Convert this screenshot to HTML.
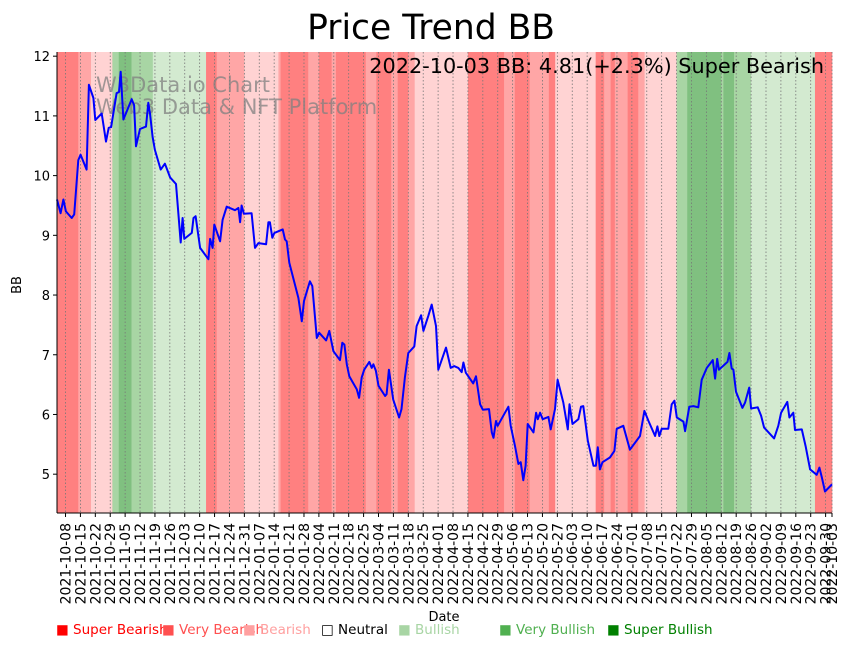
<!DOCTYPE html>
<html><head><meta charset="utf-8">
<style>
body{margin:0;background:#fff;}
svg text{font-family:"DejaVu Sans","Liberation Sans",sans-serif;}
</style></head>
<body>
<svg id="chart" width="851" height="646" xmlns="http://www.w3.org/2000/svg">
<text x="431" y="39" font-size="34.5" text-anchor="middle">Price Trend BB</text>
<g id="bands"></g>
<g id="grid"></g>
<g fill="#808080" fill-opacity="0.75" font-size="21">
<text x="96" y="92">W3Data.io Chart</text>
<text x="96" y="114">Web3 Data &amp; NFT Platform</text>
</g>
<path id="line" fill="none" stroke="#0000ff" stroke-width="2" stroke-linejoin="round"></path>
<text x="824" y="73" font-size="20.8" text-anchor="end">2022-10-03 BB: 4.81(+2.3%) Super Bearish</text>
<g id="axes"></g>
<text x="444" y="621" font-size="13" text-anchor="middle">Date</text>
<text x="21" y="285" font-size="13" text-anchor="middle" transform="rotate(-90 21 285)">BB</text>
<g id="legend" font-size="13.5"></g>
</svg>
<script>
// data: day offsets from 2021-10-04 and BB values
const days = [0,1.7,3,4.2,6.9,8.1,10,11.1,13.9,15,17.1,18,21,23,24.3,25.4,28,29.1,29.9,31.2,35.1,36.2,37.1,39,41.8,42.9,43.7,44.9,46,48.7,50.7,53.1,55.9,58.1,59,59.8,63.3,64.1,65.1,67.2,71.1,71.9,73.1,73.9,76.6,77.8,79.7,83.6,85.2,86,86.7,87.8,91.4,93,94.6,98.2,99.3,100,101.1,102.1,106,107.1,107.9,109.1,113.4,115,116,118.8,119.9,122,123.1,126.4,127.9,129.8,132.9,134,135,136.1,137.3,140.8,141.9,143.1,144.3,146.7,147.8,148.6,149.8,151,154.1,154.8,155.9,157.9,160.7,161.8,163.4,165,167.8,168.9,171,172.1,174.4,176,178,179.1,182.7,184.9,186.5,188.5,190.1,190.9,192,195.5,196.8,198.7,200,202.9,204.2,205,206.2,207,210.4,212,213.1,215.1,216.7,217.8,219,220.1,221.1,223.8,225,225.8,226.9,228.1,230.8,231.9,233.9,235.1,237.8,239.9,240.7,242.1,244.9,246.1,247.2,249.3,252,253.1,254,255,256.2,259.7,261.8,262.9,266,269.1,273.8,275.9,277.8,280.9,282,282.9,284,287.1,288.7,290,291.1,294.2,295,297,298.9,301.2,302.8,305.2,308,309.1,310.1,310.9,314.9,315.8,316.9,317.7,318.9,321.9,323.2,325.1,326,329.1,330.7,332.1,336.8,338.8,340.1,343,344,345.8,346.6,349.8,351.6,353.7,356.8,358.1,359.2,360.7,364];
const values = [9.6,9.37,9.6,9.4,9.29,9.35,10.26,10.35,10.1,11.52,11.3,10.93,11.04,10.57,10.8,10.81,11.38,11.4,11.74,10.94,11.28,11.18,10.49,10.78,10.82,11.22,11.04,10.65,10.43,10.1,10.2,9.97,9.86,8.88,9.29,8.94,9.04,9.29,9.32,8.79,8.6,8.94,8.79,9.18,8.9,9.26,9.48,9.42,9.46,9.22,9.5,9.36,9.37,8.79,8.87,8.85,9.22,9.22,8.96,9.04,9.1,8.93,8.9,8.54,7.95,7.56,7.9,8.23,8.15,7.28,7.37,7.24,7.4,7.06,6.91,7.2,7.17,6.84,6.64,6.42,6.28,6.62,6.75,6.88,6.78,6.84,6.73,6.48,6.31,6.34,6.75,6.25,5.95,6.09,6.62,7.03,7.14,7.48,7.66,7.4,7.65,7.84,7.48,6.75,7.12,6.78,6.81,6.78,6.71,6.87,6.7,6.52,6.64,6.17,6.08,6.09,5.7,5.61,5.89,5.81,6.03,6.13,5.81,5.47,5.17,5.2,4.9,5.14,5.84,5.7,6.03,5.92,6.03,5.92,5.96,5.75,6.09,6.58,6.2,5.75,6.17,5.84,5.92,6.13,6.14,5.56,5.14,5.14,5.45,5.08,5.2,5.28,5.39,5.76,5.81,5.41,5.64,6.06,5.89,5.64,5.8,5.64,5.76,5.76,6.17,6.23,5.95,5.88,5.72,6.13,6.14,6.12,6.58,6.78,6.91,6.6,6.93,6.75,6.88,7.03,6.77,6.75,6.38,6.11,6.2,6.45,6.1,6.12,5.98,5.78,5.6,5.81,6.03,6.21,5.95,6.03,5.74,5.75,5.47,5.08,4.99,5.11,4.95,4.71,4.83];
// sentiment bands: start day, category (0 super bearish .. 6 super bullish)
const bandStarts = [0,10,16,26,29,35,45,70,75,88,104,105,118,123,129,131,145,150,157,160,165,168,193,210,215,222,231,234,253,257,260,262,268,273,276,291,296,312,313,318,326,356];
const bandCats =   [0,1,2,5,6,5,4,0,1,2,1,0,1,0,1,0,1,0,1,0,1,2,0,1,0,1,0,2,0,1,0,1,0,1,2,5,6,5,6,5,4,0];
const yTicks = [5,6,7,8,9,10,11,12];
const legendLabels = ["Super Bearish","Very Bearish","Bearish","Neutral","Bullish","Very Bullish","Super Bullish"];
const totalDays = 364;

const X0=57, X1=832, Y0=52, Y1=513, VMIN=4.35, VMAX=12.07;
const xs = d => X0 + d/totalDays*(X1-X0);
const ys = v => Y1 - (v-VMIN)/(VMAX-VMIN)*(Y1-Y0);
const NS="http://www.w3.org/2000/svg";
const bandColors=["#ff8080","#ffa6a6","#ffd3d3","#ffffff","#d3ead0","#a8d5a4","#80c080"];
const legendColors=["#ff0000","#ff5050","#ffa0a0","#000000","#a8d5a4","#50b050","#008000"];
function mk(tag,attrs,parent){const e=document.createElementNS(NS,tag);for(const k in attrs)e.setAttribute(k,attrs[k]);parent.appendChild(e);return e;}

const bandsG=document.getElementById('bands');
for(let i=0;i<bandStarts.length;i++){
  const s=bandStarts[i], e=(i+1<bandStarts.length)?bandStarts[i+1]:totalDays;
  const r=mk('rect',{x:xs(s),y:Y0,width:xs(e)-xs(s)+0.3,height:Y1-Y0,fill:bandColors[bandCats[i]]},bandsG);
  
  
}

const start=new Date(Date.UTC(2021,9,4));
const tickDays=[];
for(let d=4; d<=totalDays; d+=7) tickDays.push(d);
tickDays.push(364);
function fmt(d){const t=new Date(start.getTime()+d*86400000);return t.toISOString().slice(0,10);}
const gridG=document.getElementById('grid'), axesG=document.getElementById('axes');
tickDays.forEach(d=>{
  const x=xs(d);
  const g=mk('line',{x1:x,x2:x,y1:Y0,y2:Y1,stroke:'#777','stroke-width':0.8,'stroke-dasharray':'1.5,2'},gridG);
  
  
  const t=mk('line',{x1:x,x2:x,y1:Y1,y2:Y1+4,stroke:'#000','stroke-width':1},axesG);
  
  
  const lb=mk('text',{x:x+5,y:Y1+10,'font-size':14,'text-anchor':'end',transform:`rotate(-90 ${x+5} ${Y1+10})`},axesG);
  lb.textContent=fmt(d);
  
  
});
yTicks.forEach(v=>{
  const y=ys(v);
  const t=mk('line',{x1:X0-4,x2:X0,y1:y,y2:y,stroke:'#000','stroke-width':1},axesG);
  
  
  const lb=mk('text',{x:X0-7,y:y+5,'font-size':13,'text-anchor':'end'},axesG);
  lb.textContent=v;
  
  
});
const ls=mk('line',{x1:X0,x2:X0,y1:Y0,y2:Y1,stroke:'#000','stroke-width':1},axesG);


const bs=mk('line',{x1:X0,x2:X1,y1:Y1,y2:Y1,stroke:'#000','stroke-width':1},axesG);



document.getElementById('line').setAttribute('d',days.map((d,i)=>(i?'L':'M')+xs(d).toFixed(1)+','+ys(values[i]).toFixed(1)).join(''));

const legendX=[56,162,243,321,398,499,607];
const legG=document.getElementById('legend');
legendLabels.forEach((l,i)=>{
  const t=mk('text',{x:legendX[i],y:634,fill:i===3?'#000':legendColors[i]},legG);
  t.textContent=(i===3?'□ ':'■ ')+l;
  
  
});
</script>
</body></html>
